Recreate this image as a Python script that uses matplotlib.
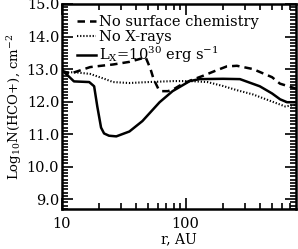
import matplotlib
matplotlib.use("Agg")
import matplotlib.pyplot as plt
from matplotlib.ticker import MultipleLocator, FixedLocator, NullFormatter

plt.rcParams['font.family'] = ['DejaVu Serif']
plt.rcParams['mathtext.fontset'] = 'dejavuserif'

# radius (AU) and log10 N(HCO+)
r_solid = [10, 10.8, 12.5, 16.6, 18.2, 19.3, 20.7, 21.9, 24, 27.5, 35.1, 44.7, 61.6, 78.4, 108, 130, 200, 275, 398, 500, 581, 661, 780]
n_solid = [12.95, 12.85, 12.62, 12.6, 12.47, 11.85, 11.2, 11.02, 10.95, 10.93, 11.08, 11.4, 11.98, 12.32, 12.63, 12.69, 12.7, 12.69, 12.47, 12.25, 12.07, 11.98, 11.98]

r_dash = [10, 10.8, 11.5, 16.9, 20.7, 25.9, 35, 47.5, 49.5, 52, 55, 60, 64, 72, 80, 95, 110, 140, 175, 215, 260, 350, 500, 580, 780]
n_dash = [12.95, 12.9, 12.85, 13.06, 13.1, 13.14, 13.22, 13.36, 13.2, 13.0, 12.7, 12.4, 12.32, 12.32, 12.38, 12.55, 12.65, 12.8, 12.95, 13.08, 13.1, 13.0, 12.75, 12.55, 12.4]

r_dot = [10, 10.8, 12.8, 16.9, 22, 25.9, 35, 50, 80, 108, 150, 200, 260, 350, 500, 640, 780]
n_dot = [12.95, 12.9, 12.9, 12.85, 12.7, 12.6, 12.57, 12.6, 12.63, 12.63, 12.6, 12.48, 12.35, 12.22, 12.0, 11.85, 11.9]

labels = ["No surface chemistry", "No X-rays", r"L$_\mathrm{X}$=10$^{30}$ erg s$^{-1}$"]


def main():
    fig = plt.figure(figsize=(2.98, 2.49), dpi=100)
    ax = fig.add_axes([0.208, 0.161, 0.785, 0.823])
    ax.plot(r_dash, n_dash, color='k', lw=1.8, ls=(0, (3, 2)), label=labels[0])
    ax.plot(r_dot, n_dot, color='k', lw=1.5, ls=(0, (0.6, 0.9)), label=labels[1])
    ax.plot(r_solid, n_solid, color='k', lw=1.8, label=labels[2])
    ax.set_xscale('log')
    ax.set_xlim(10, 780)
    ax.set_ylim(8.7, 15.0)
    ax.set_xticks([10, 100])
    ax.set_xticklabels(["10", "100"])
    ax.xaxis.set_minor_locator(FixedLocator([20, 30, 40, 50, 60, 70, 80, 90, 200, 300, 400, 500, 600, 700]))
    ax.xaxis.set_minor_formatter(NullFormatter())
    ax.yaxis.set_minor_locator(MultipleLocator(0.1))
    ax.set_yticks([9, 10, 11, 12, 13, 14, 15])
    ax.set_yticklabels(["%.1f" % v for v in [9, 10, 11, 12, 13, 14, 15]])
    ax.tick_params(which='both', direction='in', top=True, right=True, labelsize=10.5, width=1.2)
    ax.tick_params(which='major', length=8)
    ax.tick_params(which='minor', length=4)
    ax.tick_params(axis='x', pad=6)
    ax.tick_params(axis='y', pad=2)
    for s in ax.spines.values():
        s.set_linewidth(1.8)
    ax.set_xlabel("r, AU", fontsize=10, labelpad=1)
    ax.set_ylabel(r"Log$_{10}$N(HCO+), cm$^{-2}$", fontsize=9.5, labelpad=2)
    ax.legend(loc='upper left', frameon=False, fontsize=10.5, handlelength=1.3,
              handletextpad=0.2, labelspacing=0.05, borderaxespad=0.0, bbox_to_anchor=(0.04, 0.975))
    fig.savefig("out.png", dpi=100)


if __name__ == '__main__':
    main()
